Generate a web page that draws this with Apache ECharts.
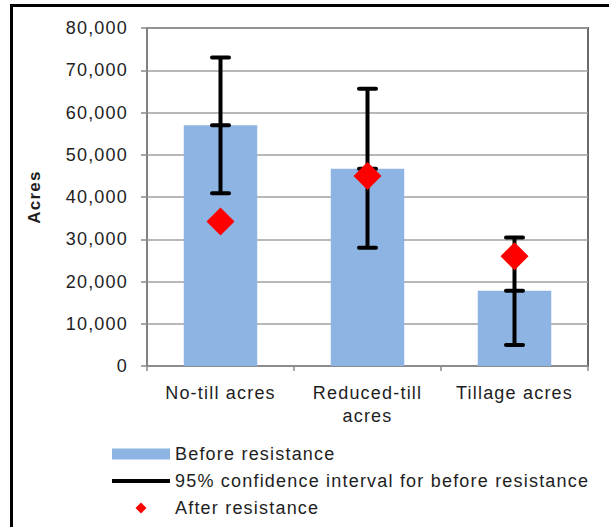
<!DOCTYPE html>
<html>
<head>
<meta charset="utf-8">
<script src="https://cdn.jsdelivr.net/npm/echarts@6/dist/echarts.min.js"></script>
<style>
html, body { margin: 0; padding: 0; background: #fff; }
#chart { width: 609px; height: 527px; }
#chart text { letter-spacing: 1.2px; }
</style>
</head>
<body>
<div id="chart"></div>
<script>
// ---- data ----
var categories = ['No-till acres', 'Reduced-till\nacres', 'Tillage acres'];
var beforeResistance = [57000, 46700, 17800];
var ciLow = [40900, 28000, 5000];
var ciHigh = [73000, 65600, 30400];
var afterResistance = [34200, 45000, 26000];
var yTicks = [0, 10000, 20000, 30000, 40000, 50000, 60000, 70000, 80000];

var seriesNames = ['Before resistance', '95% confidence interval for before resistance', 'After resistance'];

var FONT = "'Liberation Sans', Arial, sans-serif";
var TEXT = '#1e1e1e';

var chart = echarts.init(document.getElementById('chart'), null, { renderer: 'svg' });

var ciData = categories.map(function (c, i) { return [i, ciLow[i], beforeResistance[i], ciHigh[i]]; });

function renderCI(params, api) {
  var lo = api.coord([api.value(0), api.value(1)]);
  var mid = api.coord([api.value(0), api.value(2)]);
  var hi = api.coord([api.value(0), api.value(3)]);
  var x = lo[0];
  var hw = 8.5;
  var style = { stroke: '#000', lineWidth: 4, lineCap: 'round' };
  return {
    type: 'group',
    children: [
      { type: 'line', shape: { x1: x, y1: lo[1], x2: x, y2: hi[1] }, style: { stroke: '#000', lineWidth: 4 } },
      { type: 'line', shape: { x1: x - hw, y1: lo[1], x2: x + hw, y2: lo[1] }, style: style },
      { type: 'line', shape: { x1: x - hw, y1: mid[1], x2: x + hw, y2: mid[1] }, style: style },
      { type: 'line', shape: { x1: x - hw, y1: hi[1], x2: x + hw, y2: hi[1] }, style: style }
    ]
  };
}

var option = {
  animation: false,
  backgroundColor: '#fff',
  textStyle: { fontFamily: FONT },
  grid: {
    left: 147, right: 21, top: 28, bottom: 161,
    show: true, borderColor: '#6a6a6a', borderWidth: 2, backgroundColor: 'transparent'
  },
  graphic: [{
    type: 'rect', z: 100,
    shape: { x: 11.5, y: 5.5, width: 800, height: 800 },
    style: { fill: 'none', stroke: '#000', lineWidth: 3 }
  }],
  legend: {
    orient: 'vertical',
    left: 112, top: 445, height: 200,
    padding: 0,
    itemWidth: 58, itemHeight: 11, itemGap: 9,
    textStyle: { fontFamily: FONT, fontSize: 18, color: TEXT },
    data: [
      { name: seriesNames[0], icon: 'rect' },
      { name: seriesNames[1], icon: 'path://M0 0H60V4H0Z', itemStyle: { color: '#000' } },
      { name: seriesNames[2], icon: 'path://M5 0L10 5L5 10L0 5Z' }
    ]
  },
  xAxis: {
    type: 'category',
    data: categories,
    axisLine: { lineStyle: { color: '#8a8a8a', width: 1.5 } },
    axisTick: { show: true, length: 5, alignWithLabel: false, interval: 0, lineStyle: { color: '#8a8a8a', width: 1.5 } },
    axisLabel: { interval: 0, margin: 15, fontSize: 18, lineHeight: 23, color: TEXT, fontFamily: FONT },
    splitLine: { show: false }
  },
  yAxis: {
    type: 'value',
    min: 0, max: 80000, interval: 10000,
    name: 'Acres',
    nameLocation: 'middle',
    nameGap: 104,
    nameRotate: 90,
    nameTextStyle: { fontSize: 17, fontWeight: 'bold', color: TEXT, fontFamily: FONT },
    axisLine: { show: true, lineStyle: { color: '#8a8a8a', width: 1.5 } },
    axisTick: { show: true, length: 6, lineStyle: { color: '#8a8a8a', width: 1.5 } },
    axisLabel: {
      margin: 19, fontSize: 18, color: TEXT, fontFamily: FONT,
      formatter: function (v) { return yTicks.indexOf(v) >= 0 ? v.toLocaleString('en-US') : ''; }
    },
    splitLine: { show: true, lineStyle: { color: '#a0a0a0', width: 1.5 } }
  },
  series: [
    {
      name: seriesNames[0],
      type: 'bar',
      data: beforeResistance,
      barWidth: '50%',
      itemStyle: { color: '#8EB4E3' },
      z: 2
    },
    {
      name: seriesNames[1],
      type: 'custom',
      data: ciData,
      renderItem: renderCI,
      encode: { x: 0, y: [1, 2, 3] },
      itemStyle: { color: '#000' },
      z: 3
    },
    {
      name: seriesNames[2],
      type: 'scatter',
      data: afterResistance,
      symbol: 'diamond',
      symbolSize: 28,
      itemStyle: { color: '#FF0000', opacity: 1 },
      z: 4
    }
  ]
};

chart.setOption(option);
</script>
</body>
</html>
